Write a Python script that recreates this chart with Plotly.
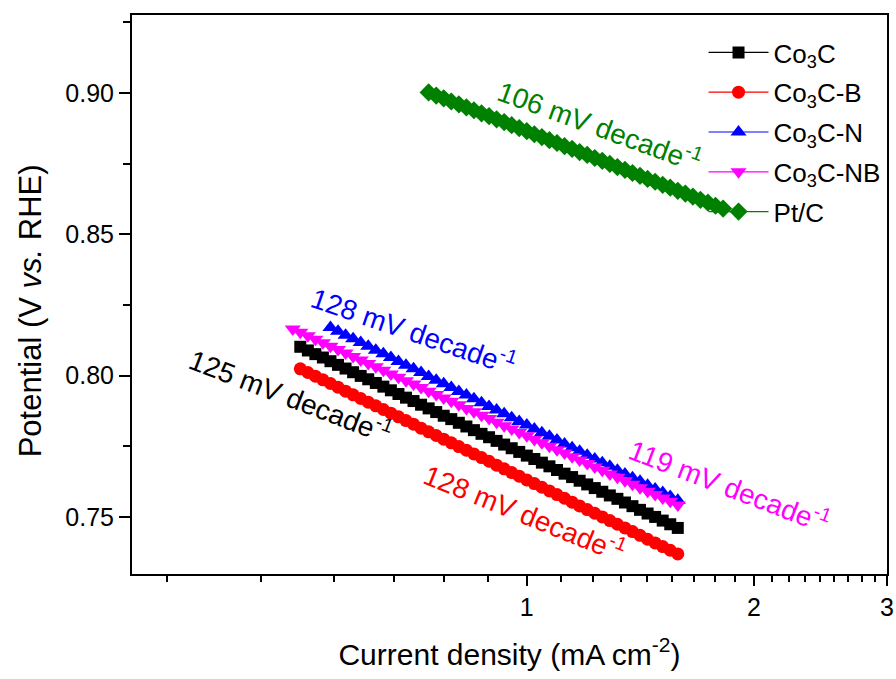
import plotly.graph_objects as go

# ---------------- data ----------------
series_names = ["Co<sub>3</sub>C", "Co<sub>3</sub>C-B", "Co<sub>3</sub>C-N", "Co<sub>3</sub>C-NB", "Pt/C"]

co3c_j = [0.5012, 0.5129, 0.5248, 0.5370, 0.5495, 0.5623, 0.5754, 0.5888, 0.6026, 0.6166,
          0.6310, 0.6457, 0.6607, 0.6761, 0.6918, 0.7079, 0.7244, 0.7413, 0.7586, 0.7762,
          0.7943, 0.8128, 0.8318, 0.8511, 0.8710, 0.8913, 0.9120, 0.9333, 0.9550, 0.9772,
          1.0000, 1.0233, 1.0471, 1.0715, 1.0965, 1.1220, 1.1482, 1.1749, 1.2023, 1.2303,
          1.2589, 1.2882, 1.3183, 1.3490, 1.3804, 1.4125, 1.4454, 1.4791, 1.5136, 1.5488, 1.5849]
co3c_v = [0.8102, 0.8089, 0.8076, 0.8064, 0.8051, 0.8038, 0.8025, 0.8012, 0.7999, 0.7987,
          0.7974, 0.7961, 0.7948, 0.7935, 0.7922, 0.7910, 0.7897, 0.7884, 0.7871, 0.7858,
          0.7846, 0.7833, 0.7820, 0.7807, 0.7794, 0.7782, 0.7769, 0.7756, 0.7743, 0.7730,
          0.7717, 0.7705, 0.7692, 0.7679, 0.7666, 0.7653, 0.7641, 0.7628, 0.7615, 0.7602,
          0.7589, 0.7576, 0.7564, 0.7551, 0.7538, 0.7525, 0.7512, 0.7500, 0.7487, 0.7474, 0.7461]

co3cb_j = [0.5012, 0.5129, 0.5248, 0.5370, 0.5495, 0.5623, 0.5754, 0.5888, 0.6026, 0.6166,
           0.6310, 0.6457, 0.6607, 0.6761, 0.6918, 0.7079, 0.7244, 0.7413, 0.7586, 0.7762,
           0.7943, 0.8128, 0.8318, 0.8511, 0.8710, 0.8913, 0.9120, 0.9333, 0.9550, 0.9772,
           1.0000, 1.0233, 1.0471, 1.0715, 1.0965, 1.1220, 1.1482, 1.1749, 1.2023, 1.2303,
           1.2589, 1.2882, 1.3183, 1.3490, 1.3804, 1.4125, 1.4454, 1.4791, 1.5136, 1.5488, 1.5849]
co3cb_v = [0.8024, 0.8011, 0.7998, 0.7985, 0.7972, 0.7959, 0.7945, 0.7932, 0.7919, 0.7906,
           0.7893, 0.7880, 0.7867, 0.7854, 0.7841, 0.7828, 0.7814, 0.7801, 0.7788, 0.7775,
           0.7762, 0.7749, 0.7736, 0.7723, 0.7710, 0.7697, 0.7683, 0.7670, 0.7657, 0.7644,
           0.7631, 0.7618, 0.7605, 0.7592, 0.7579, 0.7566, 0.7552, 0.7539, 0.7526, 0.7513,
           0.7500, 0.7487, 0.7474, 0.7461, 0.7448, 0.7435, 0.7421, 0.7408, 0.7395, 0.7382, 0.7369]

co3cn_j = [0.5495, 0.5623, 0.5754, 0.5888, 0.6026, 0.6166, 0.6310, 0.6457, 0.6607, 0.6761,
           0.6918, 0.7079, 0.7244, 0.7413, 0.7586, 0.7762, 0.7943, 0.8128, 0.8318, 0.8511,
           0.8710, 0.8913, 0.9120, 0.9333, 0.9550, 0.9772, 1.0000, 1.0233, 1.0471, 1.0715,
           1.0965, 1.1220, 1.1482, 1.1749, 1.2023, 1.2303, 1.2589, 1.2882, 1.3183, 1.3490,
           1.3804, 1.4125, 1.4454, 1.4791, 1.5136, 1.5488, 1.5849]
co3cn_v = [0.8170, 0.8157, 0.8143, 0.8130, 0.8117, 0.8104, 0.8090, 0.8077, 0.8064, 0.8050,
           0.8037, 0.8024, 0.8011, 0.7997, 0.7984, 0.7971, 0.7958, 0.7944, 0.7931, 0.7918,
           0.7904, 0.7891, 0.7878, 0.7865, 0.7851, 0.7838, 0.7825, 0.7811, 0.7798, 0.7785,
           0.7772, 0.7758, 0.7745, 0.7732, 0.7718, 0.7705, 0.7692, 0.7679, 0.7665, 0.7652,
           0.7639, 0.7626, 0.7612, 0.7599, 0.7586, 0.7572, 0.7559]

co3cnb_j = [0.4898, 0.5012, 0.5129, 0.5248, 0.5370, 0.5495, 0.5623, 0.5754, 0.5888, 0.6026, 0.6166,
            0.6310, 0.6457, 0.6607, 0.6761, 0.6918, 0.7079, 0.7244, 0.7413, 0.7586, 0.7762,
            0.7943, 0.8128, 0.8318, 0.8511, 0.8710, 0.8913, 0.9120, 0.9333, 0.9550, 0.9772,
            1.0000, 1.0233, 1.0471, 1.0715, 1.0965, 1.1220, 1.1482, 1.1749, 1.2023, 1.2303,
            1.2589, 1.2882, 1.3183, 1.3490, 1.3804, 1.4125, 1.4454, 1.4791, 1.5136, 1.5488, 1.5849]
co3cnb_v = [0.8165, 0.8153, 0.8141, 0.8129, 0.8116, 0.8104, 0.8092, 0.8080, 0.8068, 0.8055, 0.8043,
            0.8031, 0.8019, 0.8006, 0.7994, 0.7982, 0.7970, 0.7958, 0.7945, 0.7933, 0.7921,
            0.7909, 0.7897, 0.7884, 0.7872, 0.7860, 0.7848, 0.7835, 0.7823, 0.7811, 0.7799,
            0.7787, 0.7774, 0.7762, 0.7750, 0.7738, 0.7726, 0.7713, 0.7701, 0.7689, 0.7677,
            0.7665, 0.7652, 0.7640, 0.7628, 0.7616, 0.7603, 0.7591, 0.7579, 0.7567, 0.7555, 0.7542]

ptc_j = [0.7413, 0.7586, 0.7762, 0.7943, 0.8128, 0.8318, 0.8511, 0.8710, 0.8913, 0.9120,
         0.9333, 0.9550, 0.9772, 1.0000, 1.0233, 1.0471, 1.0715, 1.0965, 1.1220, 1.1482,
         1.1749, 1.2023, 1.2303, 1.2589, 1.2882, 1.3183, 1.3490, 1.3804, 1.4125, 1.4454,
         1.4791, 1.5136, 1.5488, 1.5849, 1.6218, 1.6596, 1.6982, 1.7378, 1.7783, 1.8197]
ptc_v = [0.9002, 0.8991, 0.8981, 0.8970, 0.8960, 0.8949, 0.8939, 0.8928, 0.8918, 0.8907,
         0.8897, 0.8886, 0.8876, 0.8865, 0.8854, 0.8844, 0.8833, 0.8823, 0.8812, 0.8802,
         0.8791, 0.8781, 0.8770, 0.8760, 0.8749, 0.8738, 0.8728, 0.8717, 0.8707, 0.8696,
         0.8686, 0.8675, 0.8665, 0.8654, 0.8644, 0.8633, 0.8622, 0.8612, 0.8601, 0.8591]

x_tick_vals = [1, 2, 3]
x_tick_text = ["1", "2", "3"]
x_minor_vals = [0.3333, 0.4444, 0.5556, 0.6667, 0.7778, 0.8889,
                1.1111, 1.2222, 1.3333, 1.4444, 1.5556, 1.6667, 1.7778, 1.8889,
                2.1111, 2.2222, 2.3333, 2.4444, 2.5556, 2.6667, 2.7778, 2.8889]
y_tick_vals = [0.75, 0.80, 0.85, 0.90]
y_tick_text = ["0.75", "0.80", "0.85", "0.90"]

slope_labels = ["125 mV decade<sup>-1</sup>", "128 mV decade<sup>-1</sup>",
                "128 mV decade<sup>-1</sup>", "119 mV decade<sup>-1</sup>",
                "106 mV decade<sup>-1</sup>"]

x_title = "Current density (mA cm<sup>-2</sup>)"
y_title = "Potential (V <i>vs.</i> RHE)"

# ---------------- figure ----------------
FONT = "Liberation Sans, Arial, Helvetica, sans-serif"
colors = ["#000000", "#ff0000", "#0000ff", "#ff00ff", "#008000"]
symbols = ["square", "circle", "triangle-up", "triangle-down", "diamond"]
sizes = [12, 13, 14, 14, 14]
xs = [co3c_j, co3cb_j, co3cn_j, co3cnb_j, ptc_j]
ys = [co3c_v, co3cb_v, co3cn_v, co3cnb_v, ptc_v]

for a, b in zip(xs, ys):
    assert len(a) == len(b)

fig = go.Figure()
for i, (name, x, y, c, s, sz) in enumerate(zip(series_names, xs, ys, colors, symbols, sizes)):
    fig.add_trace(go.Scatter(
        x=x, y=y, name=name, mode="lines+markers", legendgroup="g%d" % i,
        line=dict(color=c, width=1.2),
        marker=dict(symbol=s, size=sz, color=c, line=dict(width=0)),
    ))

# slope annotations (paper coords): Co3C, Co3C-B, Co3C-N, Co3C-NB, Pt/C
ann_pos = [(0.210, 0.320, 21), (0.521, 0.111, 22), (0.374, 0.437, 19),
           (0.792, 0.159, 21), (0.620, 0.803, 20)]
for txt, c, (px, py, ang) in zip(slope_labels, colors, ann_pos):
    fig.add_annotation(x=px, y=py, xref="paper", yref="paper", text=txt,
                       showarrow=False, textangle=ang, xanchor="center", yanchor="middle",
                       font=dict(family=FONT, size=28, color=c))

# y axis title placed as annotation (centred where the reference has it)
fig.add_annotation(x=-0.135, y=0.470, xref="paper", yref="paper", text=y_title,
                   showarrow=False, textangle=-90, xanchor="center", yanchor="middle",
                   font=dict(family=FONT, size=31, color="black"))

fig.update_layout(
    width=896, height=679,
    margin=dict(l=132, r=9, t=15, b=105),
    paper_bgcolor="white", plot_bgcolor="white",
    font=dict(family=FONT, size=25, color="black"),
    showlegend=True,
    legend=dict(x=0.757, y=0.975, xanchor="left", yanchor="top",
                bgcolor="rgba(0,0,0,0)", borderwidth=0,
                font=dict(family=FONT, size=26, color="black"),
                itemwidth=60, tracegroupgap=3),
    xaxis=dict(
        type="log", range=[-0.5229, 0.4771], automargin=False,
        tickmode="array", tickvals=x_tick_vals, ticktext=x_tick_text,
        ticks="outside", ticklen=10, tickwidth=2, tickcolor="black",
        showline=True, linewidth=2, linecolor="black", mirror=True,
        showgrid=False, zeroline=False,
        tickfont=dict(family=FONT, size=25, color="black"),
        minor=dict(tickmode="array", tickvals=x_minor_vals, ticks="outside",
                   ticklen=6, tickwidth=1.5, tickcolor="black", showgrid=False),
        title=dict(text=x_title,
                   font=dict(family=FONT, size=30, color="black"), standoff=24),
    ),
    yaxis=dict(
        range=[0.7298, 0.9276], automargin=False,
        tickmode="array", tickvals=y_tick_vals, ticktext=y_tick_text,
        ticks="outside", ticklen=11, tickwidth=2, tickcolor="black",
        showline=True, linewidth=2, linecolor="black", mirror=True,
        showgrid=False, zeroline=False,
        tickfont=dict(family=FONT, size=25, color="black"),
        minor=dict(dtick=0.025, tick0=0.75, ticks="outside", ticklen=7,
                   tickwidth=1.5, tickcolor="black", showgrid=False),
    ),
)

fig.write_html("out.html")
